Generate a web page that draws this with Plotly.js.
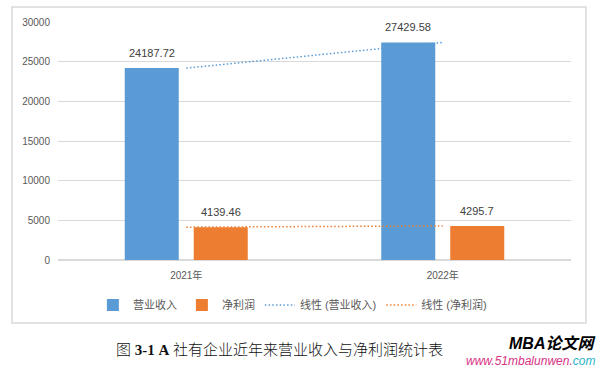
<!DOCTYPE html>
<html>
<head>
<meta charset="utf-8">
<script src="https://cdn.plot.ly/plotly-3.0.1.min.js"></script>
<style>html,body{margin:0;padding:0;background:#fff;}#chart{width:598px;height:367px;}</style>
</head>
<body>
<div id="chart"></div>
<script>
const categories = ["2021年", "2022年"];
const revenue = [24187.72, 27429.58];
const netProfit = [4139.46, 4295.7];
const revenueLabels = ["24187.72", "27429.58"];
const profitLabels = ["4139.46", "4295.7"];
const seriesNames = ["营业收入", "净利润", "线性 (营业收入)", "线性 (净利润)"];
const yTicks = [0, 5000, 10000, 15000, 20000, 25000, 30000];

function linearFit(vals) {
  const n = vals.length;
  const xs = vals.map((_, i) => i + 1);
  const mx = xs.reduce((a, b) => a + b, 0) / n;
  const my = vals.reduce((a, b) => a + b, 0) / n;
  let sxy = 0, sxx = 0;
  for (let i = 0; i < n; i++) { sxy += (xs[i] - mx) * (vals[i] - my); sxx += (xs[i] - mx) * (xs[i] - mx); }
  const b = sxy / sxx, a = my - b * mx;
  return xs.map(x => a + b * x);
}

const FONT = '"Liberation Sans", "Noto Sans CJK SC", sans-serif';
const BLUE = '#5b9bd5', ORANGE = '#ed7d31';
const BARGAP = 0.462;
const slotOffset = (1 - BARGAP) / 4;

const traces = [
  {type: 'bar', x: categories, y: revenue, name: seriesNames[0], marker: {color: BLUE}},
  {type: 'bar', x: categories, y: netProfit, name: seriesNames[1], marker: {color: ORANGE}},
  {type: 'scatter', mode: 'lines', x: categories, y: linearFit(revenue), name: seriesNames[2],
   line: {color: BLUE, width: 1.5, dash: '1.5px,2.2px'}},
  {type: 'scatter', mode: 'lines', x: categories, y: linearFit(netProfit), name: seriesNames[3],
   line: {color: ORANGE, width: 1.5, dash: '1.5px,2.2px'}}
];

const labelAnns = [];
categories.forEach((c, i) => {
  labelAnns.push({xref: 'x', yref: 'y', x: i - slotOffset, y: revenue[i], text: revenueLabels[i],
    showarrow: false, xanchor: 'center', yanchor: 'bottom', yshift: 7,
    font: {family: FONT, size: 11, color: '#404040'}});
  labelAnns.push({xref: 'x', yref: 'y', x: i + slotOffset, y: netProfit[i], text: profitLabels[i],
    showarrow: false, xanchor: 'center', yanchor: 'bottom', yshift: 7,
    font: {family: FONT, size: 11, color: '#404040'}});
});

const layout = {
  width: 598, height: 367,
  margin: {l: 58, r: 27, t: 22, b: 107},
  paper_bgcolor: '#fff', plot_bgcolor: '#fff',
  font: {family: FONT, size: 10, color: '#595959'},
  barmode: 'group', bargap: BARGAP, bargroupgap: 0.217,
  xaxis: {type: 'category', showgrid: false, zeroline: false, showline: false, ticks: '',
          tickfont: {size: 10, color: '#595959'}, ticklabelstandoff: 8},
  yaxis: {range: [0, 30000], tickvals: yTicks, ticktext: yTicks.map(String), showgrid: true,
          gridcolor: '#d9d9d9', gridwidth: 1, zeroline: true, zerolinecolor: '#d9d9d9', zerolinewidth: 1.5,
          showline: false, ticks: '', tickfont: {size: 10, color: '#595959'}, ticklabelstandoff: 7},
  showlegend: true,
  legend: {orientation: 'h', x: 0.068, xanchor: 'left', y: -0.189, yanchor: 'middle',
           font: {size: 11, color: '#595959'}, traceorder: 'normal', bgcolor: 'rgba(0,0,0,0)'},
  shapes: [{type: 'rect', xref: 'paper', yref: 'paper', x0: -0.0897, x1: 1.0292, y0: -0.2647, y1: 1.063,
            line: {color: '#d9d9d9', width: 1.5}, fillcolor: 'rgba(0,0,0,0)', layer: 'below'}],
  annotations: labelAnns.concat([
    {xref: 'paper', yref: 'paper', x: 0.4327, y: -0.378, xanchor: 'center', yanchor: 'middle', showarrow: false,
     text: '图 <b>3-1 A</b> 社有企业近年来营业收入与净利润统计表',
     font: {family: '"Liberation Serif", "Noto Sans CJK SC", serif', size: 15, color: '#111', weight: 300}},
    {xref: 'paper', yref: 'paper', x: 1.0507, y: -0.349, xanchor: 'right', yanchor: 'middle', showarrow: false,
     text: '<b><i>MBA论文网</i></b>', font: {family: FONT, size: 16, color: '#000'}},
    {xref: 'paper', yref: 'paper', x: 1.0507, y: -0.424, xanchor: 'right', yanchor: 'middle', showarrow: false,
     text: '<i>www.51mbalunwen.<span style="color:#2bb3c6">com</span></i>', font: {family: FONT, size: 12, color: '#d63384'}}
  ])
};

Plotly.newPlot('chart', traces, layout, {displayModeBar: false, staticPlot: true});
</script>
</body>
</html>
